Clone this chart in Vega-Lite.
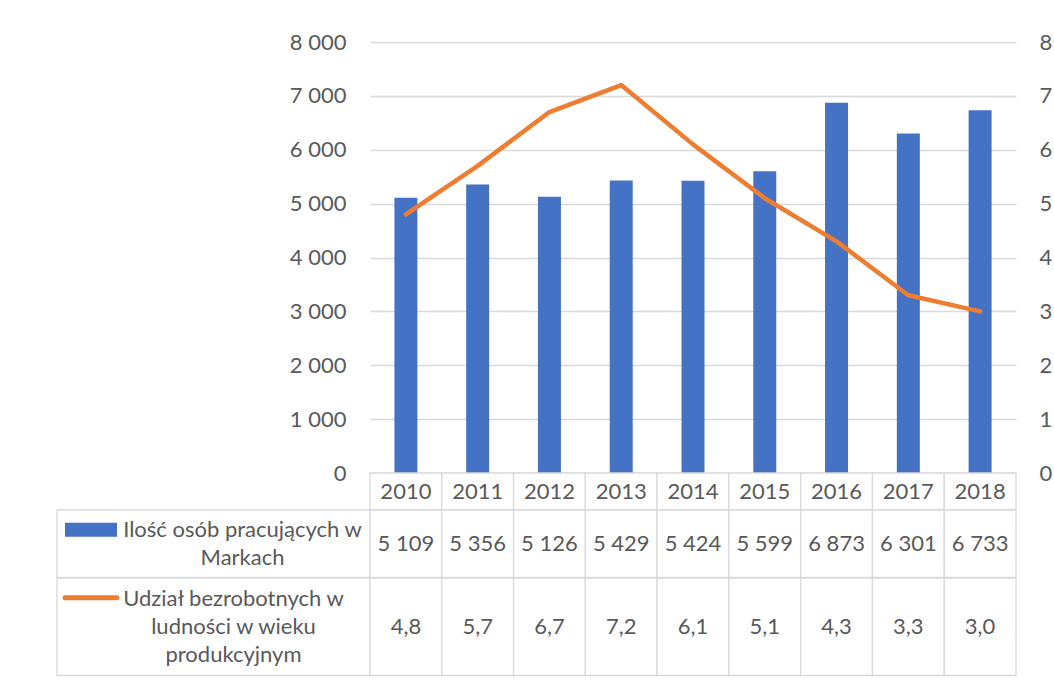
{
  "$schema": "https://vega.github.io/schema/vega-lite/v6.json",
  "padding": {"left": 55, "top": 31, "right": 0, "bottom": 0},
  "background": "white",
  "datasets": {
    "d": [
      {"year": "2010", "workers": 5109, "rate": 4.8},
      {"year": "2011", "workers": 5356, "rate": 5.7},
      {"year": "2012", "workers": 5126, "rate": 6.7},
      {"year": "2013", "workers": 5429, "rate": 7.2},
      {"year": "2014", "workers": 5424, "rate": 6.1},
      {"year": "2015", "workers": 5599, "rate": 5.1},
      {"year": "2016", "workers": 6873, "rate": 4.3},
      {"year": "2017", "workers": 6301, "rate": 3.3},
      {"year": "2018", "workers": 6733, "rate": 3.0}
    ]
  },
  "columns": 2,
  "spacing": 0,
  "bounds": "flush",
  "concat": [
    {
      "width": 313, "height": 431,
      "data": {"values": [{"t": ""}]},
      "mark": {"type": "text"},
      "encoding": {"text": {"field": "t"}}
    },
    {
      "width": 646, "height": 431,
      "data": {"name": "d"},
      "layer": [
        {
          "mark": {"type": "bar", "color": "#4472C4"},
          "encoding": {
            "x": {"field": "year", "type": "ordinal", "axis": null, "scale": {"paddingInner": 0.68, "paddingOuter": 0.34}},
            "y": {"field": "workers", "type": "quantitative", "scale": {"domain": [0, 8000]},
              "axis": {"values": [0, 1000, 2000, 3000, 4000, 5000, 6000, 7000, 8000], "format": ",d", "title": null, "domain": false, "ticks": false, "labelPadding": 24, "grid": true, "gridColor": "#D9D9D9", "gridWidth": 1.3, "labelFontSize": 22, "labelColor": "#595959", "labelFont": "Lato"}}
          }
        },
        {
          "mark": {"type": "line", "color": "#ED7D31", "strokeWidth": 4.5, "strokeCap": "round", "strokeJoin": "round"},
          "encoding": {
            "x": {"field": "year", "type": "ordinal", "axis": null},
            "y": {"field": "rate", "type": "quantitative", "scale": {"domain": [0, 8]},
              "axis": {"orient": "right", "values": [0, 1, 2, 3, 4, 5, 6, 7, 8], "format": "d", "title": null, "domain": false, "ticks": false, "grid": false, "labelPadding": 23, "labelFontSize": 22, "labelColor": "#595959", "labelFont": "Lato"}}
          }
        }
      ],
      "resolve": {"scale": {"y": "independent"}}
    },
    {
      "width": 313, "height": 37,
      "data": {"values": [{"t": ""}]},
      "mark": {"type": "text"},
      "encoding": {"text": {"field": "t"}}
    },
    {
      "width": 646, "height": 37,
      "data": {"name": "d"},
      "layer": [
        {
          "mark": {"type": "rect", "fill": "white", "stroke": "#D9D9D9", "strokeWidth": 1.3},
          "encoding": {"x": {"field": "year", "type": "ordinal", "axis": null, "scale": {"padding": 0}}}
        },
        {
          "mark": {"type": "text", "fontSize": 22, "color": "#595959", "font": "Lato"},
          "encoding": {"x": {"field": "year", "type": "ordinal", "axis": null}, "text": {"field": "year"}}
        }
      ]
    },
    {
      "width": 313, "height": 67.5,
      "data": {"values": [{"series": "Ilość osób pracujących w\nMarkach"}]},
      "layer": [
        {
          "mark": {"type": "rect", "fill": "white", "stroke": "#D9D9D9", "strokeWidth": 1.3},
          "encoding": {"x": {"field": "series", "type": "nominal", "axis": null, "scale": {"padding": 0}}}
        },
        {
          "mark": {"type": "point", "shape": "M-1,-0.27H1V0.27H-1Z", "size": 2704, "filled": true, "color": "#4472C4", "opacity": 1, "xOffset": -122.5, "yOffset": -14},
          "encoding": {"x": {"field": "series", "type": "nominal", "axis": null}}
        },
        {
          "mark": {"type": "text", "fontSize": 22, "color": "#595959", "font": "Lato", "lineBreak": "\n", "lineHeight": 28, "dx": 29, "dy": -14, "baseline": "middle"},
          "encoding": {"x": {"field": "series", "type": "nominal", "axis": null}, "text": {"field": "series"}}
        }
      ]
    },
    {
      "width": 646, "height": 67.5,
      "data": {"name": "d"},
      "layer": [
        {
          "mark": {"type": "rect", "fill": "white", "stroke": "#D9D9D9", "strokeWidth": 1.3},
          "encoding": {"x": {"field": "year", "type": "ordinal", "axis": null, "scale": {"padding": 0}}}
        },
        {
          "mark": {"type": "text", "fontSize": 22, "color": "#595959", "font": "Lato"},
          "encoding": {"x": {"field": "year", "type": "ordinal", "axis": null}, "text": {"field": "workers", "type": "quantitative", "format": ",d"}}
        }
      ]
    },
    {
      "width": 313, "height": 97.5,
      "data": {"values": [{"series": "Udział bezrobotnych w\nludności w wieku\nprodukcyjnym"}]},
      "layer": [
        {
          "mark": {"type": "rect", "fill": "white", "stroke": "#D9D9D9", "strokeWidth": 1.3},
          "encoding": {"x": {"field": "series", "type": "nominal", "axis": null, "scale": {"padding": 0}}}
        },
        {
          "mark": {"type": "point", "shape": "M-1,0H1", "size": 2704, "filled": false, "color": "#ED7D31", "strokeWidth": 5, "strokeCap": "round", "opacity": 1, "xOffset": -122.5, "yOffset": -29},
          "encoding": {"x": {"field": "series", "type": "nominal", "axis": null}}
        },
        {
          "mark": {"type": "text", "fontSize": 22, "color": "#595959", "font": "Lato", "lineBreak": "\n", "lineHeight": 28, "dx": 20, "dy": -28, "baseline": "middle"},
          "encoding": {"x": {"field": "series", "type": "nominal", "axis": null}, "text": {"field": "series"}}
        }
      ]
    },
    {
      "width": 646, "height": 97.5,
      "data": {"name": "d"},
      "layer": [
        {
          "mark": {"type": "rect", "fill": "white", "stroke": "#D9D9D9", "strokeWidth": 1.3},
          "encoding": {"x": {"field": "year", "type": "ordinal", "axis": null, "scale": {"padding": 0}}}
        },
        {
          "mark": {"type": "text", "fontSize": 22, "color": "#595959", "font": "Lato"},
          "encoding": {"x": {"field": "year", "type": "ordinal", "axis": null}, "text": {"field": "rate", "type": "quantitative", "format": ".1f"}}
        }
      ]
    }
  ],
  "resolve": {"scale": {"x": "independent", "y": "independent"}},
  "config": {
    "view": {"stroke": null},
    "font": "Lato",
    "locale": {"number": {"decimal": ",", "thousands": " ", "grouping": [3], "currency": ["", " zł"]}}
  }
}
